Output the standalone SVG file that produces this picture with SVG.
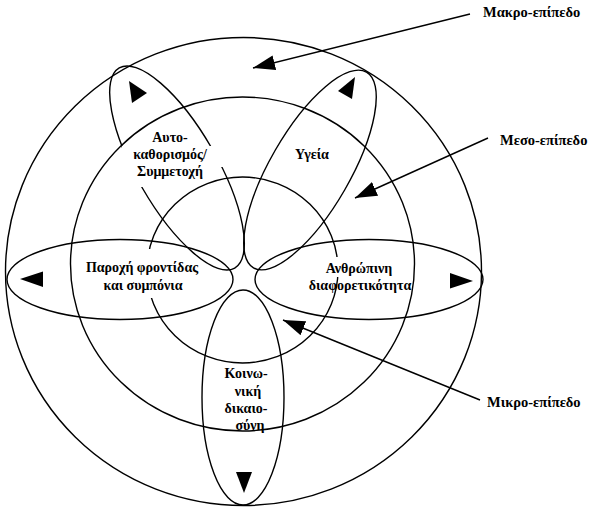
<svg xmlns="http://www.w3.org/2000/svg" width="604" height="507" viewBox="0 0 604 507">
<style>
.ln{fill:none;stroke:#000;stroke-width:1.4}
.tri{fill:#000;stroke:none}
.gap{fill:#fff;stroke:none}
.t{font-family:"Liberation Serif","Times New Roman",serif;font-weight:bold;font-size:14px;fill:#000;text-anchor:middle}
.lab{font-family:"Liberation Serif","Times New Roman",serif;font-weight:bold;font-size:14.5px;fill:#000}
</style>
<defs>
<marker id="ah" viewBox="0 0 22 15" refX="22" refY="7.5" markerWidth="22" markerHeight="15" markerUnits="userSpaceOnUse" orient="auto">
<path d="M0,0 L22,7.5 L0,15 Z" fill="#000"/>
</marker>
</defs>
<rect width="604" height="507" fill="#fff"/>
<g id="levels">
<ellipse id="macro" class="ln" cx="243.5" cy="271.5" rx="238" ry="234"/>
<ellipse id="meso" class="ln" cx="242.5" cy="264" rx="172" ry="167"/>
<ellipse id="micro" class="ln" cx="242.5" cy="270" rx="95.5" ry="93"/>
</g>
<g id="node-autonomy">
<ellipse class="ln" cx="177" cy="168" rx="115.5" ry="40" transform="rotate(60 177 168)"/>
<path class="tri" d="M129,81 L132,103 L147,93 Z"/>
<rect class="gap" x="122" y="146" width="106" height="21"/>
<rect class="gap" x="126" y="163" width="80" height="20"/>
<rect class="gap" x="130" y="180" width="16" height="7"/>
<text class="t" x="170" y="142">Αυτο-</text>
<text class="t" x="170" y="159">καθορισμός/</text>
<text class="t" x="170" y="176">Συμμετοχή</text>
</g>
<g id="node-health">
<ellipse class="ln" cx="310" cy="170" rx="113" ry="40" transform="rotate(-60 310 170)"/>
<path class="tri" d="M355,77 L338,91 L352,99 Z"/>
<text class="t" x="312" y="159">Υγεία</text>
</g>
<g id="node-care">
<ellipse class="ln" cx="120" cy="279.5" rx="113" ry="40"/>
<path class="tri" d="M20,279 L43,271.5 L43,287 Z"/>
<rect class="gap" x="140" y="249" width="20" height="49"/>
<text class="t" x="142" y="272">Παροχή φροντίδας</text>
<text class="t" x="143" y="290">και συμπόνια</text>
</g>
<g id="node-diversity">
<ellipse class="ln" cx="369" cy="279.5" rx="114" ry="40"/>
<path class="tri" d="M473,281 L450,273 L450,288.5 Z"/>
<rect class="gap" x="328" y="257" width="17" height="20"/>
<text class="t" x="359" y="273">Ανθρώπινη</text>
<text class="t" x="360" y="290">διαφορετικότητα</text>
</g>
<g id="node-justice">
<ellipse class="ln" cx="243" cy="397.5" rx="41" ry="107.5"/>
<path class="tri" d="M236,472 L252,472 L244,493 Z"/>
<text class="t" x="246" y="378">Κοινω-</text>
<text class="t" x="248" y="396">νική</text>
<text class="t" x="246" y="413">δικαιο-</text>
<text class="t" x="250" y="430">σύνη</text>
</g>
<g id="labels">
<text class="lab" x="483" y="17">Μακρο-επίπεδο</text>
<text class="lab" x="500" y="145">Μεσο-επίπεδο</text>
<text class="lab" x="487" y="407">Μικρο-επίπεδο</text>
</g>
<g id="connectors">
<line class="ln" x1="470" y1="14" x2="253" y2="68" marker-end="url(#ah)"/>
<line class="ln" x1="488" y1="138" x2="355" y2="198" marker-end="url(#ah)"/>
<line class="ln" x1="480" y1="400" x2="283" y2="320" marker-end="url(#ah)"/>
</g>
</svg>
